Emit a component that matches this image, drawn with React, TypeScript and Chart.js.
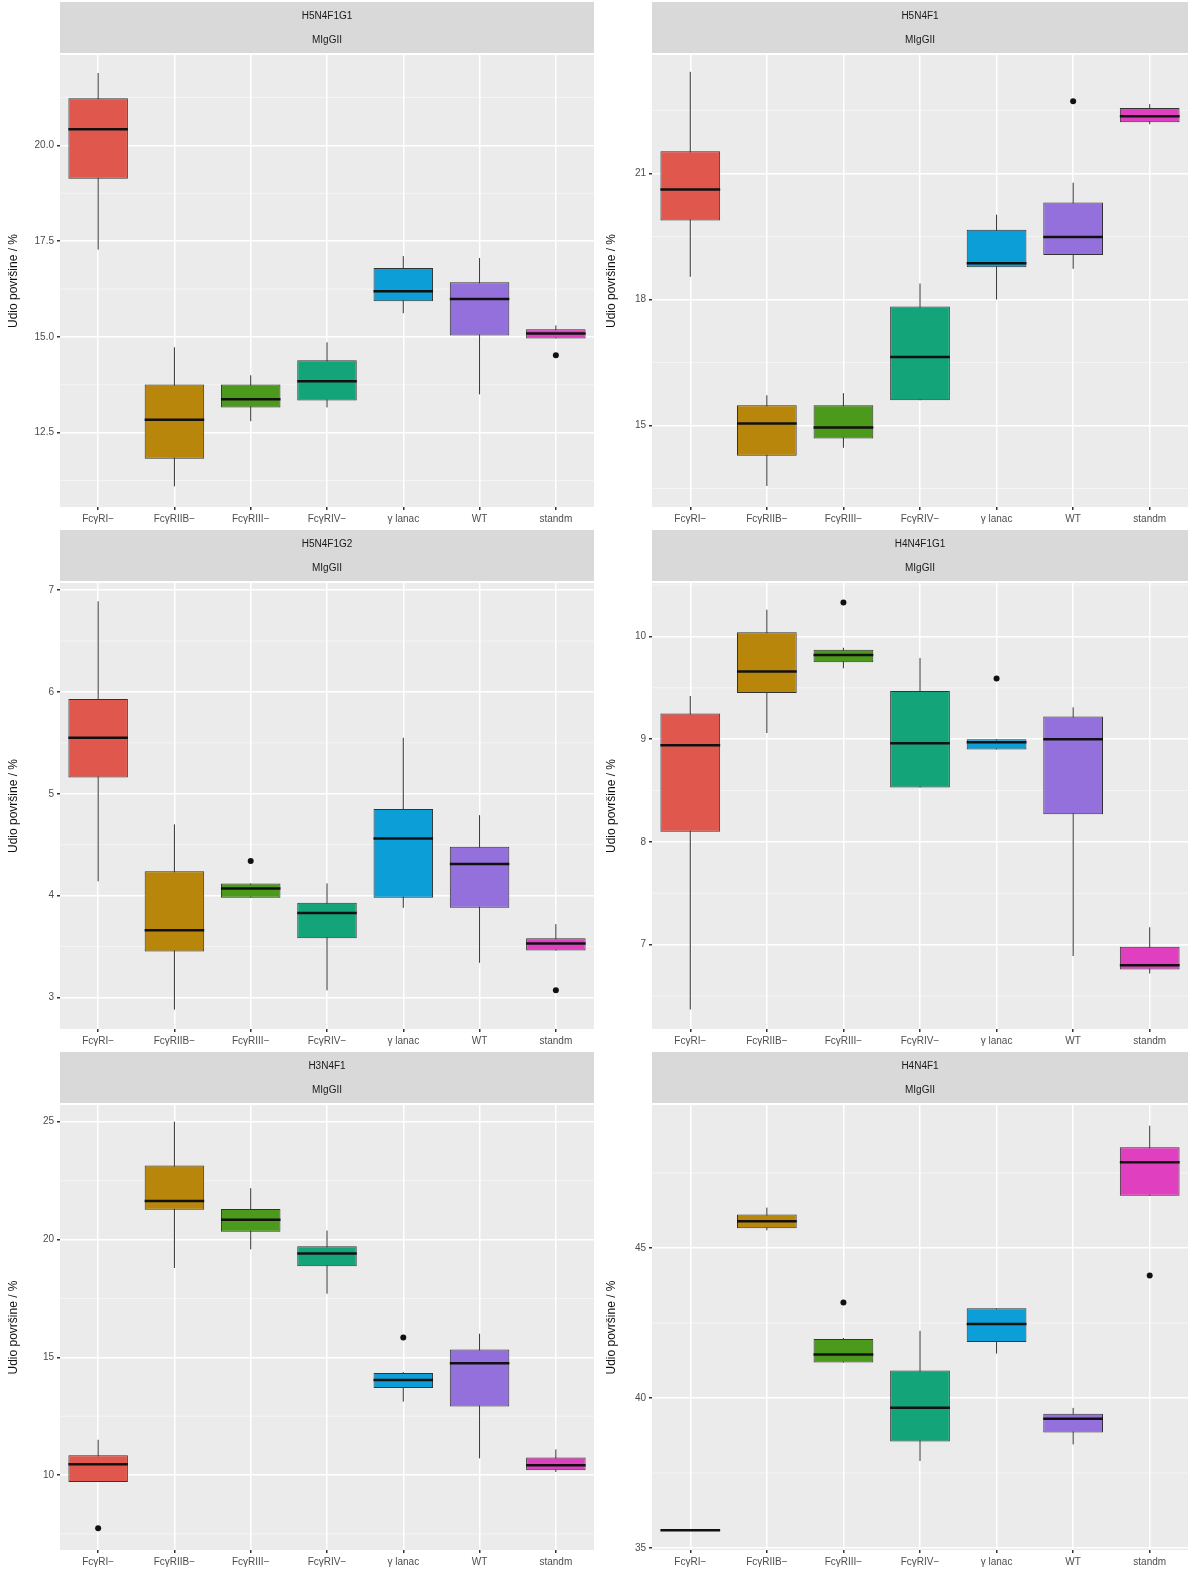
import React, { useEffect, useRef } from "react";
import { Chart, registerables } from "chart.js";

Chart.register(...registerables);

const categories = ["FcγRI−", "FcγRIIB−", "FcγRIII−", "FcγRIV−", "γ lanac", "WT", "standm"];
const boxColors = ["#E0574D", "#B8860B", "#4C9A1C", "#13A47A", "#0C9ED6", "#9370DB", "#E040C0"];

// each box: [min, q1, median, q3, max]
const h5n4f1g1 = [
  [17.28, 19.13, 20.42, 21.23, 21.89],
  [11.1, 11.82, 12.84, 13.76, 14.73],
  [12.8, 13.16, 13.37, 13.76, 14.0],
  [13.16, 13.34, 13.84, 14.39, 14.86],
  [15.62, 15.93, 16.19, 16.8, 17.11],
  [13.5, 15.04, 15.99, 16.43, 17.06],
  [14.96, 14.96, 15.09, 15.2, 15.3],
];
const h5n4f1g1Out = [[], [], [], [], [], [], [14.52]];

const h5n4f1 = [
  [18.54, 19.88, 20.62, 21.53, 23.42],
  [13.56, 14.28, 15.05, 15.48, 15.72],
  [14.47, 14.69, 14.95, 15.48, 15.77],
  [15.6, 15.6, 16.63, 17.83, 18.38],
  [18.0, 18.77, 18.86, 19.66, 20.02],
  [18.73, 19.06, 19.49, 20.31, 20.78],
  [22.17, 22.22, 22.36, 22.56, 22.65],
];
const h5n4f1Out = [[], [], [], [], [], [22.72], []];

const h5n4f1g2 = [
  [4.14, 5.16, 5.55, 5.93, 6.89],
  [2.88, 3.45, 3.66, 4.24, 4.7],
  [3.98, 3.98, 4.07, 4.12, 4.12],
  [3.07, 3.58, 3.83, 3.93, 4.12],
  [3.88, 3.98, 4.56, 4.85, 5.55],
  [3.34, 3.88, 4.31, 4.48, 4.79],
  [3.46, 3.46, 3.53, 3.58, 3.72],
];
const h5n4f1g2Out = [[], [], [4.34], [], [], [], [3.07]];

const h4n4f1g1 = [
  [6.37, 8.1, 8.94, 9.25, 9.42],
  [9.06, 9.45, 9.66, 10.04, 10.26],
  [9.69, 9.75, 9.82, 9.87, 9.89],
  [8.53, 8.53, 8.96, 9.47, 9.79],
  [8.9, 8.9, 8.97, 9.0, 9.0],
  [6.89, 8.27, 9.0, 9.22, 9.31],
  [6.72, 6.76, 6.8, 6.98, 7.17],
];
const h4n4f1g1Out = [[], [], [10.33], [], [9.59], [], []];

const h3n4f1 = [
  [9.71, 9.71, 10.46, 10.84, 11.5],
  [18.79, 21.26, 21.63, 23.14, 25.0],
  [19.58, 20.33, 20.84, 21.3, 22.18],
  [17.7, 18.87, 19.41, 19.71, 20.38],
  [13.12, 13.7, 14.04, 14.33, 14.37],
  [10.71, 12.91, 14.75, 15.33, 16.0],
  [10.13, 10.21, 10.42, 10.75, 11.09],
];
const h3n4f1Out = [[7.74], [], [], [], [15.84], [], []];

const h4n4f1 = [
  [35.59, 35.59, 35.59, 35.59, 35.59],
  [45.59, 45.66, 45.89, 46.12, 46.35],
  [41.18, 41.18, 41.45, 41.97, 42.0],
  [37.9, 38.55, 39.67, 40.92, 42.24],
  [41.48, 41.87, 42.47, 42.99, 42.99],
  [38.45, 38.85, 39.31, 39.47, 39.67],
  [46.74, 46.74, 47.86, 48.36, 49.08],
];
const h4n4f1Out = [[], [], [43.18], [], [], [], [44.08]];

const panels = [
  { title: "H5N4F1G1", boxes: h5n4f1g1, outliers: h5n4f1g1Out, min: 10.56, max: 22.36, ticks: [12.5, 15, 17.5, 20], dec: 1 },
  { title: "H5N4F1", boxes: h5n4f1, outliers: h5n4f1Out, min: 13.06, max: 23.82, ticks: [15, 18, 21], dec: 0 },
  { title: "H5N4F1G2", boxes: h5n4f1g2, outliers: h5n4f1g2Out, min: 2.69, max: 7.07, ticks: [3, 4, 5, 6, 7], dec: 0 },
  { title: "H4N4F1G1", boxes: h4n4f1g1, outliers: h4n4f1g1Out, min: 6.18, max: 10.52, ticks: [7, 8, 9, 10], dec: 0 },
  { title: "H3N4F1", boxes: h3n4f1, outliers: h3n4f1Out, min: 6.82, max: 25.71, ticks: [10, 15, 20, 25], dec: 0 },
  { title: "H4N4F1", boxes: h4n4f1, outliers: h4n4f1Out, min: 34.93, max: 49.77, ticks: [35, 40, 45], dec: 0 },
];

const boxPlugin = {
  id: "boxes",
  beforeDraw(chart: any) {
    const { ctx, chartArea } = chart;
    const p = chart.options.plugins.boxes;
    ctx.save();
    ctx.fillStyle = "#EBEBEB";
    ctx.fillRect(chartArea.left, chartArea.top, chartArea.right - chartArea.left, chartArea.bottom - chartArea.top);
    ctx.fillStyle = "#D9D9D9";
    ctx.fillRect(chartArea.left, 2, chartArea.right - chartArea.left, chartArea.top - 4);
    ctx.fillStyle = "#1A1A1A";
    ctx.font = "10px 'Liberation Sans', Arial, sans-serif";
    ctx.textAlign = "center";
    ctx.textBaseline = "middle";
    const cx = (chartArea.left + chartArea.right) / 2;
    ctx.fillText(p.title, cx, 2 + (chartArea.top - 4) * 0.28);
    ctx.fillText("MIgGII", cx, 2 + (chartArea.top - 4) * 0.75);
    // minor gridlines
    const y = chart.scales.y;
    const t: number[] = p.ticks;
    const step = t.length > 1 ? t[1] - t[0] : 1;
    ctx.strokeStyle = "#F5F5F5";
    ctx.lineWidth = 1;
    for (let v = t[0] - step / 2; v < y.max; v += step) {
      if (v <= y.min) continue;
      const py = y.getPixelForValue(v);
      ctx.beginPath();
      ctx.moveTo(chartArea.left, py);
      ctx.lineTo(chartArea.right, py);
      ctx.stroke();
    }
    ctx.restore();
  },
  beforeDatasetsDraw(chart: any) {
    const { ctx } = chart;
    const p = chart.options.plugins.boxes;
    const x = chart.scales.x;
    const y = chart.scales.y;
    ctx.save();
    ctx.strokeStyle = "#333333";
    ctx.lineWidth = 1;
    p.boxes.forEach((b: number[], i: number) => {
      const px = x.getPixelForValue(i);
      ctx.beginPath();
      ctx.moveTo(px, y.getPixelForValue(b[0]));
      ctx.lineTo(px, y.getPixelForValue(b[4]));
      ctx.stroke();
    });
    ctx.restore();
  },
  afterDatasetsDraw(chart: any) {
    const { ctx } = chart;
    const p = chart.options.plugins.boxes;
    const x = chart.scales.x;
    const y = chart.scales.y;
    const meta = chart.getDatasetMeta(0);
    ctx.save();
    p.boxes.forEach((b: number[], i: number) => {
      const bar = meta.data[i] as any;
      const half = bar.width / 2;
      const px = x.getPixelForValue(i);
      const my = y.getPixelForValue(b[2]);
      ctx.strokeStyle = "#111111";
      ctx.lineWidth = 2.5;
      ctx.beginPath();
      ctx.moveTo(px - half, my);
      ctx.lineTo(px + half, my);
      ctx.stroke();
      ctx.fillStyle = "#111111";
      p.outliers[i].forEach((o: number) => {
        ctx.beginPath();
        ctx.arc(px, y.getPixelForValue(o), 3, 0, Math.PI * 2);
        ctx.fill();
      });
    });
    ctx.restore();
  },
};

function Panel({ cfg, left, top, width, height, axisWidth }: any) {
  const ref = useRef<HTMLCanvasElement | null>(null);
  const inst = useRef<Chart | null>(null);

  useEffect(() => {
    if (!ref.current) return;
    const ctx = ref.current.getContext("2d");
    if (!ctx) return;
    if (inst.current) inst.current.destroy();
    const tickFont = { size: 10, family: "'Liberation Sans', Arial, sans-serif" };
    inst.current = new Chart(ctx, {
      type: "bar",
      data: {
        labels: categories,
        datasets: [
          {
            data: cfg.boxes.map((b: number[]) => [b[1], b[3]]),
            backgroundColor: boxColors,
            borderColor: "#333333",
            borderWidth: 1,
            borderSkipped: false,
            barPercentage: 0.78,
            categoryPercentage: 1,
          },
        ],
      },
      options: {
        animation: false,
        responsive: false,
        layout: { padding: { top: 55, right: 4, left: 2 } },
        plugins: {
          legend: { display: false },
          tooltip: { enabled: false },
          boxes: cfg,
        } as any,
        scales: {
          x: {
            grid: { color: "#FFFFFF", lineWidth: 1.5, offset: false, drawTicks: true, tickColor: "#333", tickLength: 3 },
            border: { display: false },
            ticks: { color: "#4D4D4D", font: tickFont, padding: 3, maxRotation: 0 },
          },
          y: {
            min: cfg.min,
            max: cfg.max,
            afterBuildTicks: (s: any) => {
              s.ticks = cfg.ticks.map((v: number) => ({ value: v }));
            },
            afterFit: (s: any) => {
              s.width = axisWidth;
            },
            grid: { color: "#FFFFFF", lineWidth: 1.5, tickColor: "#333", tickLength: 3 },
            border: { display: false },
            ticks: {
              color: "#4D4D4D",
              font: tickFont,
              padding: 3,
              callback: (v: any) => Number(v).toFixed(cfg.dec),
            },
            title: {
              display: true,
              text: "Udio površine / %",
              color: "#111",
              font: { size: 12, family: "'Liberation Sans', Arial, sans-serif" },
            },
          },
        },
      },
      plugins: [boxPlugin],
    });
    return () => {
      if (inst.current) inst.current.destroy();
    };
  }, []);

  return (
    <canvas
      ref={ref}
      width={width}
      height={height}
      style={{ position: "absolute", left, top, width, height }}
    />
  );
}

export default function App() {
  const rows = [
    { top: 0, h: 528 },
    { top: 528, h: 522 },
    { top: 1050, h: 521 },
  ];
  return (
    <div style={{ position: "absolute", left: 0, top: 0, width: 1192, height: 1571, background: "#fff" }}>
      {panels.map((cfg, i) => {
        const r = rows[Math.floor(i / 2)];
        const col = i % 2;
        return (
          <Panel
            key={cfg.title}
            cfg={cfg}
            left={col === 0 ? 0 : 598}
            top={r.top}
            width={col === 0 ? 598 : 594}
            height={r.h}
            axisWidth={col === 0 ? 58 : 52}
          />
        );
      })}
    </div>
  );
}
